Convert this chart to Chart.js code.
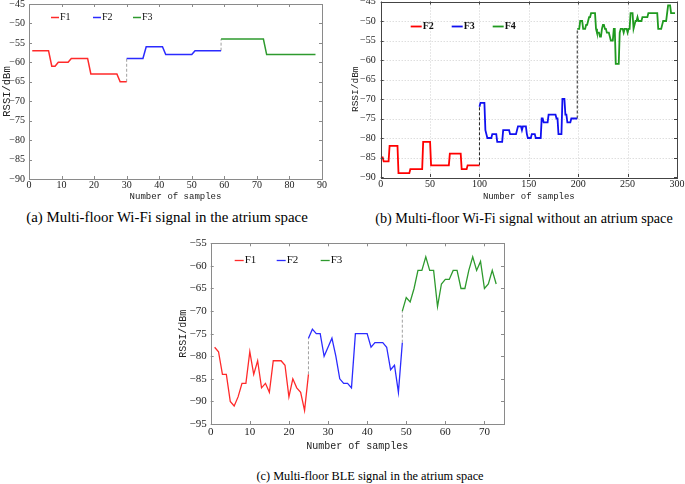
<!DOCTYPE html>
<html>
<head>
<meta charset="utf-8">
<script src="https://cdn.jsdelivr.net/npm/chart.js@4.4.0/dist/chart.umd.min.js"></script>
<style>
  body { margin: 0; background: #fff; }
  #page { position: relative; width: 685px; height: 484px; overflow: hidden; background: #fff; }
  canvas { position: absolute; }
  .caption {
    position: absolute;
    font-family: "Liberation Serif", "Times New Roman", serif;
    color: #000;
    white-space: nowrap;
    transform: translate(-50%, -50%);
  }
</style>
</head>
<body>
<div id="page">
  <canvas id="chartA" width="340" height="206" style="left:0;top:0"></canvas>
  <canvas id="chartB" width="345" height="206" style="left:340px;top:0"></canvas>
  <canvas id="chartC" width="340" height="226" style="left:170px;top:230px"></canvas>
  <div class="caption" style="left:167px;top:217px;font-size:14.9px">(a) Multi-floor Wi-Fi signal in the atrium space</div>
  <div class="caption" style="left:524px;top:218px;font-size:14.2px">(b) Multi-floor Wi-Fi signal without an atrium space</div>
  <div class="caption" style="left:370px;top:476px;font-size:12.3px">(c) Multi-floor BLE signal in the atrium space</div>
</div>
<script>
// (a) Wi-Fi, atrium: F1 starts at sample 1, F2 at 30, F3 at 59
const wifiAtriumF1 = [-57, -57, -57, -57, -57, -57, -61, -61, -60, -60, -60, -60, -59, -59, -59,
  -59, -59, -59, -63, -63, -63, -63, -63, -63, -63, -63, -63, -65, -65, -65];
const wifiAtriumF2 = [-59, -59, -59, -59, -59, -59, -56, -56, -56, -56, -56, -56, -58, -58, -58,
  -58, -58, -58, -58, -58, -58, -57, -57, -57, -57, -57, -57, -57, -57, -57];
const wifiAtriumF3 = [-54, -54, -54, -54, -54, -54, -54, -54, -54, -54, -54, -54, -54, -54, -58,
  -58, -58, -58, -58, -58, -58, -58, -58, -58, -58, -58, -58, -58, -58, -58];
const wifiAtriumStarts = [1, 30, 59];

// (b) Wi-Fi, no atrium: F2 starts at sample 0, F3 at 100, F4 at 199
const wifiNoAtriumF2 = [-85, -85, -85, -86, -86, -86, -86, -86, -86, -82, -82, -82, -82, -82, -82,
  -82, -82, -82, -89, -89, -89, -89, -89, -89, -89, -89, -89, -89, -89, -89, -88, -88, -88, -88,
  -88, -88, -88, -88, -88, -88, -88, -88, -88, -81, -81, -81, -81, -81, -81, -81, -81, -87, -87,
  -87, -87, -87, -87, -87, -87, -87, -87, -87, -87, -87, -87, -87, -87, -87, -87, -87, -84, -84,
  -84, -84, -84, -84, -84, -84, -84, -84, -84, -84, -88, -88, -88, -88, -88, -88, -87, -87, -87,
  -87, -87, -87, -87, -87, -87, -87, -87, -87, -87];
const wifiNoAtriumF3 = [-72, -71, -71, -71, -71, -71, -78, -79, -80, -80, -80, -80, -80, -79, -79,
  -79, -79, -79, -81, -81, -81, -81, -81, -81, -78, -78, -78, -78, -78, -78, -78, -79, -79, -79,
  -79, -79, -79, -79, -79, -77, -77, -77, -77, -78, -77, -77, -77, -77, -79, -80, -80, -80, -80,
  -79, -79, -79, -79, -80, -80, -80, -80, -80, -80, -75, -75, -76, -76, -76, -76, -76, -74, -74,
  -74, -74, -74, -74, -74, -74, -75, -75, -79, -79, -79, -79, -70, -70, -70, -74, -74, -76, -76,
  -76, -76, -75, -75, -75, -75, -75, -75, -75];
const wifiNoAtriumF4 = [-52, -52, -52, -50, -50, -50, -52, -52, -52, -51, -51, -50, -49, -49, -48,
  -48, -48, -48, -48, -52, -53, -53, -53, -54, -54, -52, -51, -51, -52, -52, -53, -53, -53, -54,
  -55, -55, -55, -52, -52, -61, -61, -61, -61, -53, -52, -52, -52, -53, -52, -52, -52, -53, -52,
  -52, -48, -48, -48, -52, -51, -50, -50, -49, -50, -50, -50, -50, -49, -49, -49, -49, -49, -49,
  -48, -48, -48, -48, -48, -48, -48, -48, -48, -48, -52, -52, -52, -52, -51, -50, -50, -50, -50,
  -48, -46, -46, -46, -48, -48, -48, -48, -48];
const wifiNoAtriumStarts = [0, 100, 199];

// (c) BLE, atrium: F1 starts at sample 1, F2 at 25, F3 at 49
const bleF1 = [-78, -79, -84, -84, -90, -91, -89, -86, -86, -79, -84, -81, -87, -86, -88, -81, -81,
  -81, -82, -89, -85, -87, -88, -92, -84];
const bleF2 = [-76, -74, -75, -75, -80, -78, -76, -80, -85, -86, -86, -87, -75, -75, -75, -75, -78,
  -77, -77, -77, -78, -83, -82, -88, -77];
const bleF3 = [-70, -67, -68, -65, -61, -61, -58, -61, -61, -69, -64, -63, -63, -61, -61, -65, -65,
  -61, -58, -61, -59, -65, -64, -61, -64];
const bleStarts = [1, 25, 49];

const TICK_FONT = "Liberation Serif";
const MONO_FONT = "Liberation Mono";

function toPoints(start, values) {
    return values.map((v, i) => ({ x: start + i, y: v }));
}

function minusLabel(value) {
    return value < 0 ? "\u2212" + Math.abs(value) : String(value);
}

// series + dashed jump lines between consecutive floors
function buildDatasets(labels, series, starts, colors, width, jumpColor) {
    const sets = series.map((vals, i) => ({
        label: labels[i],
        data: toPoints(starts[i], vals),
        borderColor: colors[i],
        borderWidth: width,
        pointRadius: 0,
        tension: 0,
        fill: false,
    }));
    for (let i = 1; i < series.length; i++) {
        const prev = series[i - 1];
        sets.push({
            label: "",
            data: [
                { x: starts[i], y: prev[prev.length - 1] },
                { x: starts[i], y: series[i][0] },
            ],
            borderColor: jumpColor,
            borderWidth: 1,
            borderDash: [3, 2],
            pointRadius: 0,
            fill: false,
        });
    }
    return sets;
}

const frameBox = {
    id: "frameBox",
    beforeDatasetsDraw(chart, args, opts) {
        if (!opts.grid) return;
        const { ctx, chartArea: a, scales: { x, y } } = chart;
        ctx.save();
        ctx.strokeStyle = opts.gridColor;
        ctx.lineWidth = 1;
        ctx.setLineDash([1, 2]);
        x.ticks.forEach((t) => {
            const px = Math.round(x.getPixelForValue(t.value)) + 0.5;
            if (px < a.left + 2 || px > a.right - 2) return;
            ctx.beginPath();
            ctx.moveTo(px, a.top);
            ctx.lineTo(px, a.bottom);
            ctx.stroke();
        });
        y.ticks.forEach((t) => {
            const py = Math.round(y.getPixelForValue(t.value)) + 0.5;
            if (py < a.top + 2 || py > a.bottom - 2) return;
            ctx.beginPath();
            ctx.moveTo(a.left, py);
            ctx.lineTo(a.right, py);
            ctx.stroke();
        });
        ctx.restore();
    },
    afterDraw(chart, args, opts) {
        const { ctx, chartArea: a, scales: { x, y } } = chart;
        const len = opts.tickLen;
        ctx.save();
        ctx.strokeStyle = opts.color;
        ctx.lineWidth = 1;
        ctx.setLineDash([]);
        ctx.strokeRect(Math.round(a.left) + 0.5, Math.round(a.top) + 0.5,
            Math.round(a.right - a.left), Math.round(a.bottom - a.top));
        ctx.beginPath();
        x.ticks.forEach((t) => {
            const px = Math.round(x.getPixelForValue(t.value)) + 0.5;
            ctx.moveTo(px, a.bottom);
            ctx.lineTo(px, a.bottom - len);
            ctx.moveTo(px, a.top);
            ctx.lineTo(px, a.top + len);
        });
        y.ticks.forEach((t) => {
            const py = Math.round(y.getPixelForValue(t.value)) + 0.5;
            ctx.moveTo(a.left, py);
            ctx.lineTo(a.left + len, py);
            ctx.moveTo(a.right, py);
            ctx.lineTo(a.right - len, py);
        });
        ctx.stroke();
        ctx.restore();
    },
};

const floorLegend = {
    id: "floorLegend",
    afterDraw(chart, args, opts) {
        const { ctx, chartArea: a } = chart;
        const items = chart.data.datasets.filter((d) => d.label);
        ctx.save();
        ctx.font = opts.font;
        ctx.textBaseline = "middle";
        ctx.textAlign = "left";
        items.forEach((d, i) => {
            const x0 = a.left + opts.dx[i];
            const y0 = Math.round(a.top + opts.dy) + 0.5;
            ctx.strokeStyle = d.borderColor;
            ctx.lineWidth = d.borderWidth;
            ctx.beginPath();
            ctx.moveTo(x0, y0);
            ctx.lineTo(x0 + opts.len, y0);
            ctx.stroke();
            ctx.fillStyle = "#111";
            ctx.fillText(d.label, x0 + opts.len + 1, y0);
        });
        ctx.restore();
    },
};

function makeChart(id, cfg) {
    return new Chart(document.getElementById(id), {
        type: "line",
        data: { datasets: cfg.datasets },
        options: {
            responsive: false,
            animation: false,
            layout: { padding: cfg.padding },
            plugins: {
                legend: { display: false },
                tooltip: { enabled: false },
                frameBox: cfg.frame,
                floorLegend: cfg.legend,
            },
            scales: {
                x: {
                    type: "linear",
                    min: cfg.xMin,
                    max: cfg.xMax,
                    grid: { display: false, drawTicks: false },
                    border: { display: false },
                    ticks: {
                        stepSize: cfg.xStep,
                        includeBounds: false,
                        autoSkip: false,
                        maxRotation: 0,
                        padding: cfg.xTickPad,
                        color: "#222",
                        font: { family: TICK_FONT, size: cfg.tickSize, lineHeight: 1 },
                        callback: minusLabel,
                    },
                    title: {
                        display: true,
                        text: "Number of samples",
                        padding: 0,
                        color: "#222",
                        font: { family: MONO_FONT, size: cfg.titleSize, lineHeight: 1.2 },
                    },
                    afterFit(s) {
                        s.height = cfg.xHeight;
                        s.paddingLeft = 0;
                        s.paddingRight = 0;
                    },
                },
                y: {
                    min: cfg.yMin,
                    max: cfg.yMax,
                    grid: { display: false, drawTicks: false },
                    border: { display: false },
                    ticks: {
                        stepSize: 5,
                        autoSkip: false,
                        padding: cfg.yTickPad,
                        color: "#222",
                        font: { family: TICK_FONT, size: cfg.tickSize, lineHeight: 1 },
                        callback: minusLabel,
                    },
                    title: {
                        display: true,
                        text: "RSSI/dBm",
                        padding: 0,
                        color: "#222",
                        font: { family: MONO_FONT, size: cfg.yTitleSize, lineHeight: 1.2 },
                    },
                    afterFit(s) {
                        s.width = cfg.yWidth;
                        s.paddingTop = 0;
                        s.paddingBottom = 0;
                    },
                },
            },
        },
        plugins: [frameBox, floorLegend],
    });
}

makeChart("chartA", {
    datasets: buildDatasets(["F1", "F2", "F3"],
        [wifiAtriumF1, wifiAtriumF2, wifiAtriumF3], wifiAtriumStarts,
        ["#ff2a2a", "#2b2bff", "#2e9a2e"], 1.5, "#a0a0a0"),
    padding: { left: 1, right: 18, top: 4, bottom: 4 },
    xMin: 0, xMax: 90, xStep: 10,
    yMin: -90, yMax: -45,
    yWidth: 28, xHeight: 23,
    xTickPad: 1, yTickPad: 4,
    tickSize: 10, titleSize: 9, yTitleSize: 10.5,
    frame: { color: "#8a8a8a", tickLen: 3, grid: false },
    legend: { dx: [22, 64, 104], dy: 13.3, len: 8, font: "10px " + TICK_FONT },
});

makeChart("chartB", {
    datasets: buildDatasets(["F2", "F3", "F4"],
        [wifiNoAtriumF2, wifiNoAtriumF3, wifiNoAtriumF4], wifiNoAtriumStarts,
        ["#ff0000", "#1010f0", "#1f9a1f"], 1.8, "#222"),
    padding: { left: 10, right: 8, top: 1.5, bottom: 4 },
    xMin: 0, xMax: 300, xStep: 50,
    yMin: -90, yMax: -45,
    yWidth: 30.7, xHeight: 25,
    xTickPad: 2, yTickPad: 5,
    tickSize: 10, titleSize: 9, yTitleSize: 9.5,
    frame: { color: "#444", tickLen: 3, grid: true, gridColor: "#cfcfcf" },
    legend: { dx: [30, 71, 112], dy: 24.5, len: 11, font: "bold 10px " + TICK_FONT },
});

makeChart("chartC", {
    datasets: buildDatasets(["F1", "F2", "F3"],
        [bleF1, bleF2, bleF3], bleStarts,
        ["#ff2a2a", "#2b2bff", "#2e9a2e"], 1.3, "#a0a0a0"),
    padding: { left: 7, right: 6, top: 13.3, bottom: 4 },
    xMin: 0, xMax: 75, xStep: 10,
    yMin: -95, yMax: -55,
    yWidth: 33.7, xHeight: 28,
    xTickPad: 3, yTickPad: 4,
    tickSize: 11, titleSize: 10, yTitleSize: 10,
    frame: { color: "#8a8a8a", tickLen: 3, grid: false },
    legend: { dx: [24, 66, 110], dy: 16.7, len: 9, font: "11px " + TICK_FONT },
});
</script>
</body>
</html>
